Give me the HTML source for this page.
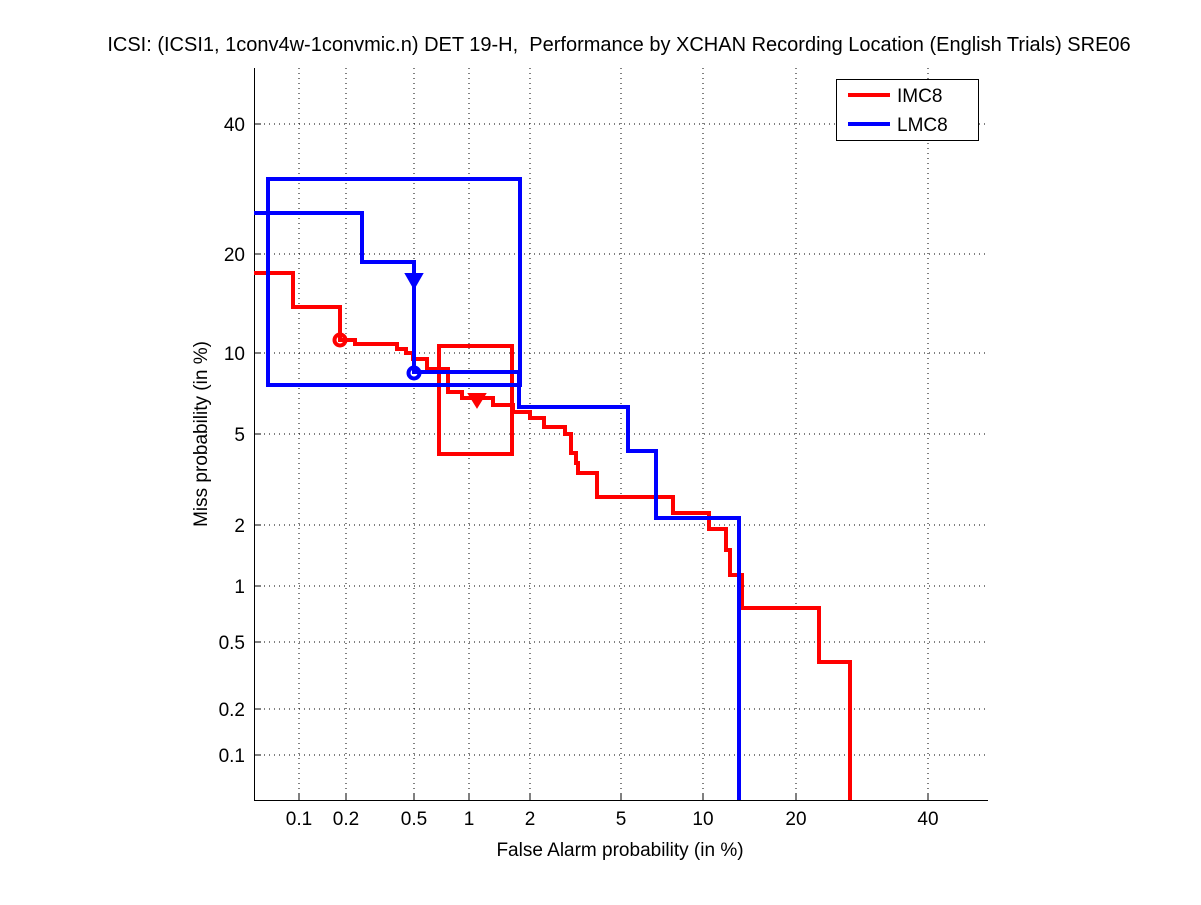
<!DOCTYPE html>
<html><head><meta charset="utf-8"><style>
body{margin:0;background:#fff;}
svg text{font-family:"Liberation Sans",Arial,sans-serif;font-size:19px;fill:#000;}
</style></head><body>
<svg width="1201" height="900" viewBox="0 0 1201 900" xmlns="http://www.w3.org/2000/svg">
<rect width="1201" height="900" fill="#fff"/>
<g stroke="#000" stroke-width="1" stroke-dasharray="1,4">
<line x1="299" y1="68" x2="299" y2="800"/><line x1="346" y1="68" x2="346" y2="800"/>
<line x1="414" y1="68" x2="414" y2="800"/><line x1="469" y1="68" x2="469" y2="800"/>
<line x1="530" y1="68" x2="530" y2="800"/><line x1="621" y1="68" x2="621" y2="800"/>
<line x1="703" y1="68" x2="703" y2="800"/><line x1="796" y1="68" x2="796" y2="800"/>
<line x1="928" y1="68" x2="928" y2="800"/>
<line x1="254" y1="124" x2="988" y2="124"/><line x1="254" y1="254" x2="988" y2="254"/>
<line x1="254" y1="353" x2="988" y2="353"/><line x1="254" y1="434" x2="988" y2="434"/>
<line x1="254" y1="525" x2="988" y2="525"/><line x1="254" y1="586" x2="988" y2="586"/>
<line x1="254" y1="642" x2="988" y2="642"/><line x1="254" y1="709" x2="988" y2="709"/>
<line x1="254" y1="755" x2="988" y2="755"/>
</g>
<g stroke="#000" stroke-width="1">
<line x1="254.5" y1="68" x2="254.5" y2="800.5"/><line x1="254" y1="800.5" x2="988" y2="800.5"/>
<line x1="299" y1="800" x2="299" y2="793"/><line x1="346" y1="800" x2="346" y2="793"/>
<line x1="414" y1="800" x2="414" y2="793"/><line x1="469" y1="800" x2="469" y2="793"/>
<line x1="530" y1="800" x2="530" y2="793"/><line x1="621" y1="800" x2="621" y2="793"/>
<line x1="703" y1="800" x2="703" y2="793"/><line x1="796" y1="800" x2="796" y2="793"/>
<line x1="928" y1="800" x2="928" y2="793"/>
<line x1="254" y1="124" x2="261" y2="124"/><line x1="254" y1="254" x2="261" y2="254"/>
<line x1="254" y1="353" x2="261" y2="353"/><line x1="254" y1="434" x2="261" y2="434"/>
<line x1="254" y1="525" x2="261" y2="525"/><line x1="254" y1="586" x2="261" y2="586"/>
<line x1="254" y1="642" x2="261" y2="642"/><line x1="254" y1="709" x2="261" y2="709"/>
<line x1="254" y1="755" x2="261" y2="755"/>
</g>
<g text-anchor="middle">
<text x="299" y="825">0.1</text><text x="346" y="825">0.2</text><text x="414" y="825">0.5</text>
<text x="469" y="825">1</text><text x="530" y="825">2</text><text x="621" y="825">5</text>
<text x="703" y="825">10</text><text x="796" y="825">20</text><text x="928" y="825">40</text>
</g>
<g text-anchor="end">
<text x="245" y="131">40</text><text x="245" y="261">20</text><text x="245" y="360">10</text>
<text x="245" y="441">5</text><text x="245" y="532">2</text><text x="245" y="593">1</text>
<text x="245" y="649">0.5</text><text x="245" y="716">0.2</text><text x="245" y="762">0.1</text>
</g>
<text x="620" y="856" text-anchor="middle">False Alarm probability (in %)</text>
<text transform="translate(207,434) rotate(-90)" text-anchor="middle">Miss probability (in %)</text>
<text x="619" y="51" text-anchor="middle" style="font-size:20px" xml:space="preserve">ICSI: (ICSI1, 1conv4w-1convmic.n) DET 19-H,  Performance by XCHAN Recording Location (English Trials) SRE06</text>
<g fill="none" stroke-width="4" stroke-linejoin="miter">
<polyline stroke="#f00" points="254,273 293,273 293,307 340,307 340,340 355,340 355,344 397,344 397,349 406,349 406,353 413,353 413,359 427,359 427,369 448,369 448,392 462,392 462,398 493,398 493,405 513,405 513,412 530,412 530,418 544,418 544,427 565,427 565,434 571,434 571,453 576,453 576,463 578,463 578,473 597,473 597,497 673,497 673,513 709,513 709,529 726,529 726,550 730,550 730,575 742,575 742,608 819,608 819,662 850,662 850,800"/>
<rect stroke="#f00" x="439" y="346" width="73" height="108"/>
<polyline stroke="#00f" points="254,213 362,213 362,262 414,262 414,372 519,372 519,407 628,407 628,451 656,451 656,518 739,518 739,800"/>
<rect stroke="#00f" x="268" y="179" width="252" height="206"/>
</g>
<circle cx="340" cy="340" r="5.5" fill="none" stroke="#f00" stroke-width="4"/>
<circle cx="414" cy="373" r="5.5" fill="none" stroke="#00f" stroke-width="4"/>
<polygon points="469,394 485,394 477,407" fill="#f00" stroke="#f00" stroke-width="2"/>
<polygon points="406,274 422,274 414,288" fill="#00f" stroke="#00f" stroke-width="2"/>
<rect x="836.5" y="79.5" width="142" height="61" fill="#fff" stroke="#000"/>
<line x1="848" y1="95" x2="890" y2="95" stroke="#f00" stroke-width="4"/>
<line x1="848" y1="124" x2="890" y2="124" stroke="#00f" stroke-width="4"/>
<text x="897" y="102">IMC8</text>
<text x="897" y="131">LMC8</text>
</svg>
</body></html>
